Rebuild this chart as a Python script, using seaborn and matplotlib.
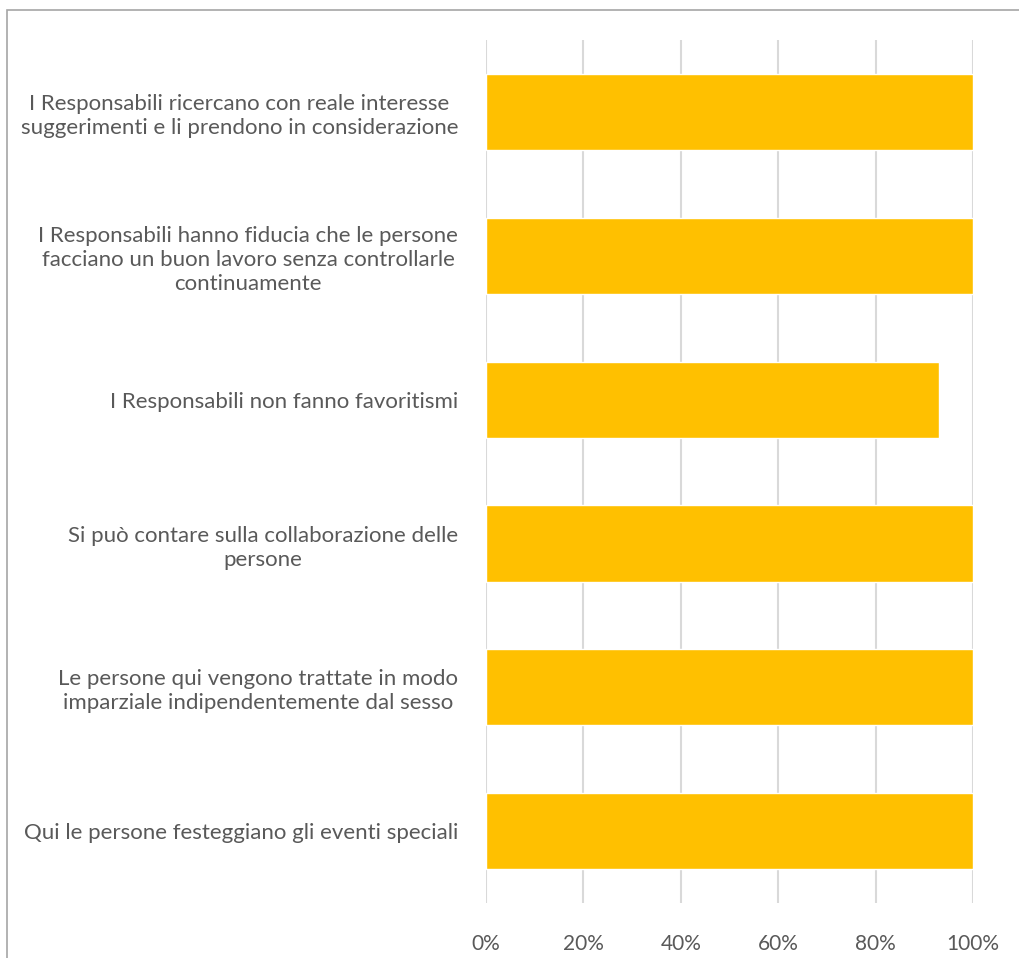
import matplotlib
matplotlib.use("Agg")
import matplotlib.pyplot as plt
from matplotlib.patches import Rectangle
from matplotlib.ticker import PercentFormatter
import seaborn as sns
import pandas as pd

categories = [
    "I Responsabili ricercano con reale interesse\nsuggerimenti e li prendono in considerazione",
    "I Responsabili hanno fiducia che le persone\nfacciano un buon lavoro senza controllarle\ncontinuamente",
    "I Responsabili non fanno favoritismi",
    "Si può contare sulla collaborazione delle\npersone",
    "Le persone qui vengono trattate in modo\nimparziale indipendentemente dal sesso",
    "Qui le persone festeggiano gli eventi speciali",
]
values = [100, 100, 93, 100, 100, 100]
tick_values = [0, 20, 40, 60, 80, 100]

df = pd.DataFrame({"categoria": categories, "valore": values})

sns.set_theme(style="white")
plt.rcParams["font.family"] = ["Lato", "DejaVu Sans"]

text_color = "#595959"
grid_color = "#D9D9D9"
bar_color = "#FFC000"

fig = plt.figure(figsize=(10.19, 9.58), dpi=100)
ax = fig.add_axes([0.477, 0.0574, 0.478, 0.9006])

sns.barplot(data=df, y="categoria", x="valore", orient="h", color=bar_color,
            saturation=1, width=0.53, ax=ax, zorder=3)

ax.set_xlim(0, 100)
ax.set_xticks(tick_values)
ax.xaxis.set_major_formatter(PercentFormatter(decimals=0))
ax.grid(axis="x", color=grid_color, linewidth=1.5, zorder=0)
ax.grid(axis="y", visible=False)
ax.set_axisbelow(True)
for side in ["top", "right", "bottom", "left"]:
    ax.spines[side].set_visible(False)
ax.set_xlabel("")
ax.set_ylabel("")
ax.tick_params(axis="x", length=0, pad=22, labelsize=15, labelcolor=text_color)
ax.tick_params(axis="y", length=0, pad=20, labelsize=16, labelcolor=text_color)
for lbl in ax.get_yticklabels():
    lbl.set_multialignment("center")
    lbl.set_linespacing(1.25)

# chart frame
fig.patches.append(Rectangle((7 / 1019, -0.05), 1.1, 1 - 10 / 958 + 0.05,
                             transform=fig.transFigure, fill=False,
                             edgecolor="#A6A6A6", linewidth=1.2, clip_on=False))

fig.savefig("out.png", dpi=100, facecolor="white")
